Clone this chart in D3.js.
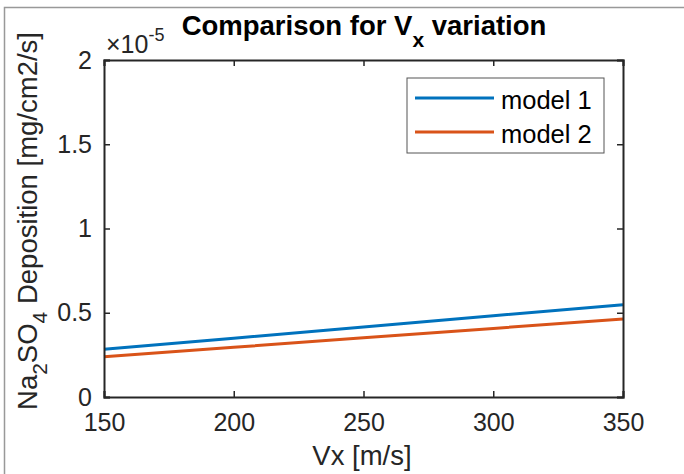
<!DOCTYPE html>
<html><head><meta charset="utf-8">
<script src="https://cdn.jsdelivr.net/npm/d3@7"></script>
<style>body{margin:0;background:#fff}svg{display:block}text{font-family:"Liberation Sans",Arial,sans-serif}</style>
</head><body><svg id="c" width="684" height="474"></svg>
<script>
const vx = [150, 200, 250, 300, 350];
const model1 = [0.283e-5, 0.349e-5, 0.415e-5, 0.482e-5, 0.548e-5];
const model2 = [0.239e-5, 0.295e-5, 0.351e-5, 0.407e-5, 0.463e-5];
const xTicks = [150, 200, 250, 300, 350];
const yTicks = [0, 0.5e-5, 1e-5, 1.5e-5, 2e-5];
const seriesNames = ["model 1", "model 2"];
const colors = ["#0072BD", "#D95319"];

const svg = d3.select("#c");
const m = {l:104, t:60, r:623, b:397};
const x = d3.scaleLinear().domain([150,350]).range([m.l, m.r]);
const y = d3.scaleLinear().domain([0,2e-5]).range([m.b, m.t]);
const ax = "#262626";

// figure border
svg.append("rect").attr("x",4.5).attr("y",7.5).attr("width",700).attr("height",500)
  .attr("fill","none").attr("stroke","#999").attr("stroke-width",1.5);

// lines
const line = d3.line().x(d=>x(d[0])).y(d=>y(d[1]));
[model1, model2].forEach((s,i)=>{
  svg.append("path").datum(vx.map((v,j)=>[v,s[j]])).attr("d",line)
    .attr("fill","none").attr("stroke",colors[i]).attr("stroke-width",3);
});

// axes
const fmtY = d => d===0 ? "0" : d3.format("~g")(d*1e5);
const gx = svg.append("g").attr("transform",`translate(0,${m.b})`)
  .call(d3.axisBottom(x).tickValues(xTicks).tickSize(-6).tickPadding(16).tickFormat(d3.format("d")));
const gxt = svg.append("g").attr("transform",`translate(0,${m.t})`)
  .call(d3.axisTop(x).tickValues(xTicks).tickSize(-6).tickFormat(""));
const gy = svg.append("g").attr("transform",`translate(${m.l},0)`)
  .call(d3.axisLeft(y).tickValues(yTicks).tickSize(-6).tickPadding(12).tickFormat(fmtY));
const gyr = svg.append("g").attr("transform",`translate(${m.r},0)`)
  .call(d3.axisRight(y).tickValues(yTicks).tickSize(-6).tickFormat(""));
[gx,gxt,gy,gyr].forEach(g=>{
  g.select(".domain").attr("stroke",ax).attr("stroke-width",2);
  g.selectAll(".tick line").attr("stroke",ax).attr("stroke-width",1.5);
  g.selectAll(".tick text").attr("fill",ax).attr("font-size",25).attr("font-family","Liberation Sans, Arial, sans-serif");
});
gx.selectAll(".tick text").attr("dy","0.71em");

// exponent
const ex = svg.append("text").attr("x",106).attr("y",53).attr("fill",ax).attr("font-size",25);
ex.append("tspan").text("×10");
ex.append("tspan").attr("font-size",18).attr("dy",-12).text("-5");

// title
const t = svg.append("text").attr("x",364).attr("y",35).attr("text-anchor","middle")
  .attr("font-weight","bold").attr("font-size",27.5).attr("fill","#000");
t.append("tspan").text("Comparison for V");
t.append("tspan").attr("font-size",21).attr("dy",12).text("x");
t.append("tspan").attr("dy",-12).text(" variation");

// x label
svg.append("text").attr("x",362).attr("y",465).attr("text-anchor","middle")
  .attr("font-size",27.5).attr("fill",ax).text("Vx [m/s]");

// y label
const yl = svg.append("text").attr("transform","translate(37,221) rotate(-90)")
  .attr("text-anchor","middle").attr("font-size",27.5).attr("fill",ax);
yl.append("tspan").text("Na");
yl.append("tspan").attr("font-size",21).attr("dy",10).text("2");
yl.append("tspan").attr("dy",-10).text("SO");
yl.append("tspan").attr("font-size",21).attr("dy",10).text("4");
yl.append("tspan").attr("dy",-10).text(" Deposition [mg/cm2/s]");

// legend
const lg = svg.append("g");
lg.append("rect").attr("x",407).attr("y",78).attr("width",197).attr("height",75)
  .attr("fill","#fff").attr("stroke","#555").attr("stroke-width",1);
seriesNames.forEach((n,i)=>{
  const yy = 98 + i*34;
  lg.append("line").attr("x1",415).attr("x2",494).attr("y1",yy).attr("y2",yy)
    .attr("stroke",colors[i]).attr("stroke-width",3);
  lg.append("text").attr("x",501).attr("y",yy+10.5).attr("font-size",25.5).attr("fill","#000").text(n);
});
</script></body></html>
